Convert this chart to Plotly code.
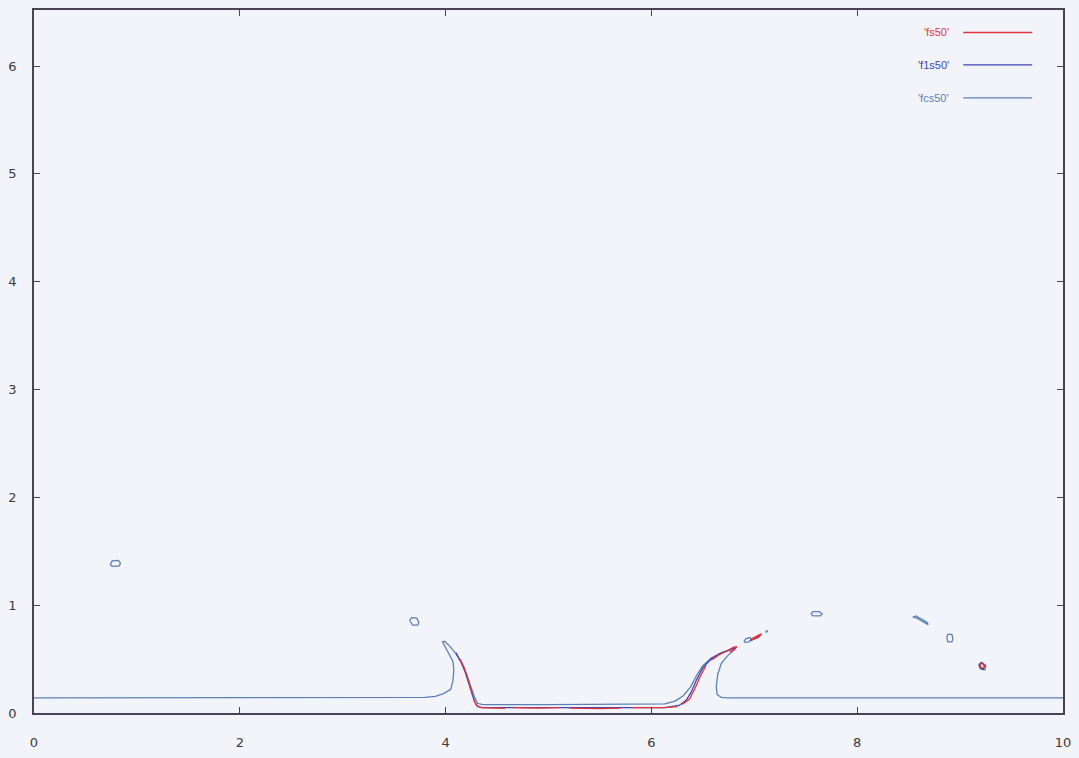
import plotly.graph_objects as go

# Free-surface contour 'fcs50' (one continuous path plus detached droplets)
fcs_x = [0.0, 3.0, 3.80, 3.90, 3.98, 4.05, 4.07, 4.08, 4.07, 4.02, 3.97, 3.99, 4.04, 4.10, 4.16,
         4.20, 4.24, 4.28, 4.31, 4.36, 5.0, 5.6, 6.13, 6.23, 6.31, 6.38, 6.44, 6.50, 6.58, 6.68,
         6.76, 6.81, 6.80, 6.74, 6.68, 6.645, 6.63, 6.64, 6.68, 6.75, 8.0, 10.0, None,
         0.74, 0.76, 0.82, 0.84, 0.83, 0.77, 0.74, None,
         3.65, 3.67, 3.72, 3.74, 3.73, 3.68, 3.65, None,
         6.90, 6.92, 6.96, 6.97, 6.95, 6.91, 6.90, None,
         7.11, 7.13, 7.12, 7.11, None,
         7.55, 7.57, 7.63, 7.66, 7.64, 7.57, 7.55, None,
         8.54, 8.57, 8.63, 8.68, 8.69, 8.64, 8.58, 8.54, None,
         8.87, 8.88, 8.92, 8.93, 8.92, 8.88, 8.87, None,
         9.18, 9.21, 9.25, 9.24, 9.20, 9.18]
fcs_y = [0.14, 0.14, 0.145, 0.155, 0.18, 0.22, 0.29, 0.40, 0.48, 0.57, 0.66, 0.665, 0.62, 0.55, 0.46,
         0.37, 0.26, 0.15, 0.09, 0.077, 0.078, 0.08, 0.085, 0.11, 0.16, 0.24, 0.35, 0.44, 0.51, 0.56,
         0.59, 0.605, 0.58, 0.53, 0.46, 0.36, 0.24, 0.17, 0.145, 0.14, 0.14, 0.14, None,
         1.37, 1.41, 1.415, 1.39, 1.365, 1.36, 1.37, None,
         0.86, 0.885, 0.88, 0.84, 0.815, 0.815, 0.86, None,
         0.665, 0.69, 0.70, 0.685, 0.66, 0.655, 0.665, None,
         0.755, 0.765, 0.75, 0.755, None,
         0.92, 0.94, 0.94, 0.92, 0.90, 0.90, 0.92, None,
         0.89, 0.90, 0.87, 0.84, 0.82, 0.85, 0.88, 0.89, None,
         0.70, 0.73, 0.73, 0.69, 0.66, 0.66, 0.70, None,
         0.45, 0.47, 0.44, 0.40, 0.41, 0.45]

# Contour 'f1s50'
f1s_x = [4.10, 4.15, 4.19, 4.22, 4.25, 4.28, 4.31, 4.36, 4.6, 5.0, 5.4, 5.8, 6.13, 6.27, 6.34,
         6.39, 6.44, 6.50, 6.58, 6.67, 6.75, 6.80, 6.82, None,
         6.97, 7.03, 7.06, 7.04, 6.98, 6.96, 6.97, None,
         9.185, 9.21, 9.24, 9.225, 9.195, 9.185]
f1s_y = [0.56, 0.47, 0.38, 0.29, 0.19, 0.11, 0.06, 0.05, 0.05, 0.05, 0.05, 0.05, 0.05, 0.07, 0.12,
         0.20, 0.31, 0.42, 0.50, 0.55, 0.58, 0.60, 0.60, None,
         0.68, 0.715, 0.73, 0.70, 0.675, 0.67, 0.68, None,
         0.45, 0.465, 0.44, 0.405, 0.415, 0.45]

# Contour 'fs50' (broken pieces)
fs_x = [4.14, 4.18, 4.21, 4.235, 4.26, None,
        4.27, 4.30, 4.34, 4.45, 4.58, None,
        4.66, 4.9, 5.1, None,
        5.2, 5.5, 5.7, None,
        5.8, 6.0, 6.13, 6.25, None,
        6.30, 6.37, 6.42, 6.47, 6.53, None,
        6.58, 6.66, 6.74, 6.80, 6.83, 6.81, 6.76, None,
        6.98, 7.04, 7.07, 7.05, 6.99, 6.97, 6.98, None,
        9.19, 9.22, 9.24, 9.21, 9.19]
fs_y = [0.50, 0.42, 0.34, 0.26, 0.17, None,
        0.13, 0.07, 0.05, 0.045, 0.043, None,
        0.05, 0.045, 0.05, None,
        0.045, 0.04, 0.045, None,
        0.05, 0.05, 0.05, 0.06, None,
        0.08, 0.13, 0.22, 0.33, 0.44, None,
        0.49, 0.54, 0.58, 0.61, 0.615, 0.59, 0.565, None,
        0.69, 0.72, 0.735, 0.71, 0.68, 0.675, 0.69, None,
        0.45, 0.46, 0.43, 0.41, 0.45]

series_names = ["'fs50'", "'f1s50'", "'fcs50'"]
series_colors = ["#e2343c", "#3b45b4", "#5c80b6"]

BG = "#f3f4f9"
AXIS = "#4b4256"

fig = go.Figure()
fig.add_trace(go.Scatter(x=fcs_x, y=fcs_y, mode="lines", connectgaps=False,
                         line=dict(color=series_colors[2], width=1.3), showlegend=False))
fig.add_trace(go.Scatter(x=f1s_x, y=f1s_y, mode="lines", connectgaps=False,
                         line=dict(color=series_colors[1], width=1.3), showlegend=False))
fig.add_trace(go.Scatter(x=fs_x, y=fs_y, mode="lines", connectgaps=False,
                         line=dict(color=series_colors[0], width=1.3), showlegend=False))

# gnuplot-style key: label on the left, line sample on the right
key_y = [0.968, 0.922, 0.875]
for name, color, ky in zip(series_names, series_colors, key_y):
    fig.add_annotation(x=0.891, y=ky, xref="paper", yref="paper", text=name,
                       showarrow=False, xanchor="right", yanchor="middle",
                       font=dict(family="Liberation Sans", size=11, color=color))
    fig.add_shape(type="line", xref="paper", yref="paper", x0=0.903, x1=0.970,
                  y0=ky, y1=ky, line=dict(color=color, width=1.3))

axis_common = dict(showgrid=False, zeroline=False, showline=True, linecolor=AXIS,
                   linewidth=1.5, mirror="ticks", ticks="inside", ticklen=6,
                   tickcolor=AXIS, tickwidth=1.2,
                   tickfont=dict(family="DejaVu Sans", size=13, color="#3a3a3a"))

fig.update_layout(
    width=1079, height=758,
    margin=dict(l=31, r=16, t=8, b=43),
    paper_bgcolor=BG, plot_bgcolor=BG,
    xaxis=dict(range=[0, 10], tickvals=[0, 2, 4, 6, 8, 10], ticklabelstandoff=17,
               **axis_common),
    yaxis=dict(range=[0, 6.52], tickvals=[0, 1, 2, 3, 4, 5, 6], ticklabelstandoff=13,
               **axis_common),
)

fig.write_html("out.html")
